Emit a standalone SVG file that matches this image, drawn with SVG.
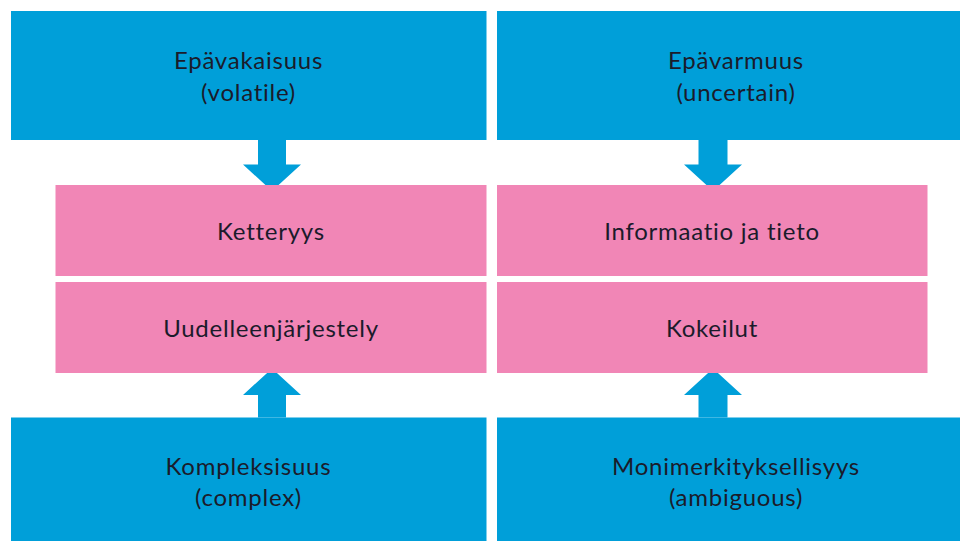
<svg xmlns="http://www.w3.org/2000/svg" width="960" height="541" viewBox="0 0 960 541">
<style>
.blue{fill:#009fd9}
.pink{fill:#f186b6}
.t{font-family:Lato,"Open Sans",sans-serif;font-size:24px;letter-spacing:0.75px;fill:#1b1b2b;text-anchor:middle}
.arr{fill:#009fd9}
</style>
<rect width="960" height="541" fill="#fff"/>
<g id="connectors">
<polygon class="arr" points="258,140 286,140 286,164.5 301,164.5 272,191 243,164.5 258,164.5"/>
<polygon class="arr" points="698.5,140 727.5,140 727.5,164.5 742,164.5 713,191 684,164.5 698.5,164.5"/>
<polygon class="arr" points="258,417.5 286,417.5 286,395 301,395 272,368.5 243,395 258,395"/>
<polygon class="arr" points="698.5,417.5 727.5,417.5 727.5,395 742,395 713,368.5 684,395 698.5,395"/>
</g>
<g id="volatile">
<rect class="blue" x="11" y="11" width="475.5" height="129"/>
<text class="t" x="248.5" y="69">Epävakaisuus</text>
<text class="t" x="248.5" y="101">(volatile)</text>
</g>
<g id="uncertain">
<rect class="blue" x="497" y="11" width="478" height="129"/>
<text class="t" x="736" y="69">Epävarmuus</text>
<text class="t" x="736" y="101">(uncertain)</text>
</g>
<g id="ketteryys">
<rect class="pink" x="55.5" y="185" width="431" height="91"/>
<text class="t" x="271" y="240">Ketteryys</text>
</g>
<g id="informaatio">
<rect class="pink" x="497" y="185" width="430.5" height="91"/>
<text class="t" x="712" y="240">Informaatio ja tieto</text>
</g>
<g id="uudelleen">
<rect class="pink" x="55.5" y="282" width="431" height="91"/>
<text class="t" x="271" y="337">Uudelleenjärjestely</text>
</g>
<g id="kokeilut">
<rect class="pink" x="497" y="282" width="430.5" height="91"/>
<text class="t" x="712" y="337">Kokeilut</text>
</g>
<g id="complex">
<rect class="blue" x="11" y="417.5" width="475.5" height="130"/>
<text class="t" x="248.5" y="475">Kompleksisuus</text>
<text class="t" x="248.5" y="506">(complex)</text>
</g>
<g id="ambiguous">
<rect class="blue" x="497" y="417.5" width="478" height="130"/>
<text class="t" x="736" y="475">Monimerkityksellisyys</text>
<text class="t" x="736" y="506">(ambiguous)</text>
</g>
</svg>
